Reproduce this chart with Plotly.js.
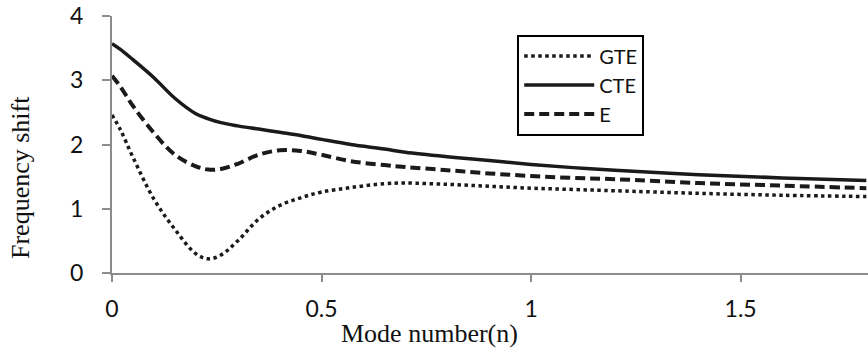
<!DOCTYPE html>
<html>
<head>
<meta charset="utf-8">
<script src="https://cdn.plot.ly/plotly-3.0.1.min.js"></script>
<style>html,body{margin:0;padding:0;background:#fff;}#chart{width:868px;height:351px;}</style>
</head>
<body>
<div id="chart"></div>
<script>
const modeNumber = [0, 0.02, 0.05, 0.1, 0.15, 0.2, 0.23, 0.26, 0.3, 0.35, 0.4, 0.45, 0.5, 0.57, 0.65, 0.7, 0.8, 0.9, 1.0, 1.1, 1.2, 1.4, 1.6, 1.8];
const gte = [2.46, 2.23, 1.80, 1.15, 0.68, 0.30, 0.22, 0.28, 0.50, 0.84, 1.05, 1.17, 1.26, 1.33, 1.39, 1.40, 1.38, 1.35, 1.32, 1.30, 1.28, 1.24, 1.21, 1.19];
const cte = [3.57, 3.48, 3.32, 3.04, 2.72, 2.48, 2.40, 2.34, 2.29, 2.24, 2.19, 2.14, 2.08, 2.00, 1.93, 1.88, 1.81, 1.75, 1.69, 1.64, 1.60, 1.53, 1.48, 1.44];
const eSeries = [3.07, 2.90, 2.60, 2.18, 1.84, 1.66, 1.61, 1.62, 1.70, 1.84, 1.91, 1.90, 1.84, 1.74, 1.68, 1.65, 1.60, 1.55, 1.51, 1.48, 1.46, 1.40, 1.36, 1.32];
const seriesNames = ['GTE', 'CTE', 'E'];
const xTicks = [0, 0.5, 1, 1.5];
const xTickText = ['0', '0.5', '1', '1.5'];
const yTicks = [0, 1, 2, 3, 4];
const xTitle = 'Mode number(n)';
const yTitle = 'Frequency shift';

const ink = '#1a1a1a';
const axisGray = '#8c8c8c';
const serif = 'Liberation Serif, Times New Roman, serif';
const sans = 'Lato, sans-serif';

const traces = [
  {x: modeNumber, y: gte, name: seriesNames[0], mode: 'lines',
   line: {color: ink, width: 3.5, dash: 'dot', shape: 'spline', smoothing: 1}},
  {x: modeNumber, y: cte, name: seriesNames[1], mode: 'lines',
   line: {color: ink, width: 3.5, dash: 'solid', shape: 'spline', smoothing: 1}},
  {x: modeNumber, y: eSeries, name: seriesNames[2], mode: 'lines',
   line: {color: ink, width: 4, dash: '10px,5px', shape: 'spline', smoothing: 1}}
];

const layout = {
  width: 868, height: 351,
  margin: {l: 112, r: 0, t: 16, b: 78},
  paper_bgcolor: '#fff', plot_bgcolor: '#fff',
  showlegend: true,
  legend: {
    x: 0.536, y: 0.928, xanchor: 'left', yanchor: 'top',
    bordercolor: '#000', borderwidth: 2, bgcolor: '#fff',
    font: {family: sans, size: 20, color: '#111'},
    itemwidth: 70, tracegroupgap: 0
  },
  xaxis: {
    range: [0, 1.804], tickvals: xTicks, ticktext: xTickText,
    showgrid: false, zeroline: false,
    showline: true, linecolor: axisGray, linewidth: 2,
    ticks: 'outside', ticklen: 7, tickwidth: 2, tickcolor: axisGray,
    tickfont: {family: sans, size: 23, color: '#111'},
    ticklabelstandoff: 7
  },
  yaxis: {
    range: [0, 4], tickvals: yTicks,
    showgrid: false, zeroline: false,
    showline: true, linecolor: axisGray, linewidth: 2,
    ticks: 'outside', ticklen: 8, tickwidth: 2, tickcolor: axisGray,
    tickfont: {family: sans, size: 23, color: '#111'},
    ticklabelstandoff: 14
  },
  annotations: [
    {text: xTitle, xref: 'paper', yref: 'paper', x: 0.42, y: -0.236,
     xanchor: 'center', yanchor: 'middle', showarrow: false,
     font: {family: serif, size: 26, color: '#111'}},
    {text: yTitle, xref: 'paper', yref: 'paper', x: -0.1217, y: 0.3735,
     xanchor: 'center', yanchor: 'middle', showarrow: false, textangle: -90,
     font: {family: serif, size: 26, color: '#111'}}
  ]
};

Plotly.newPlot('chart', traces, layout, {staticPlot: true, displayModeBar: false});
</script>
</body>
</html>
